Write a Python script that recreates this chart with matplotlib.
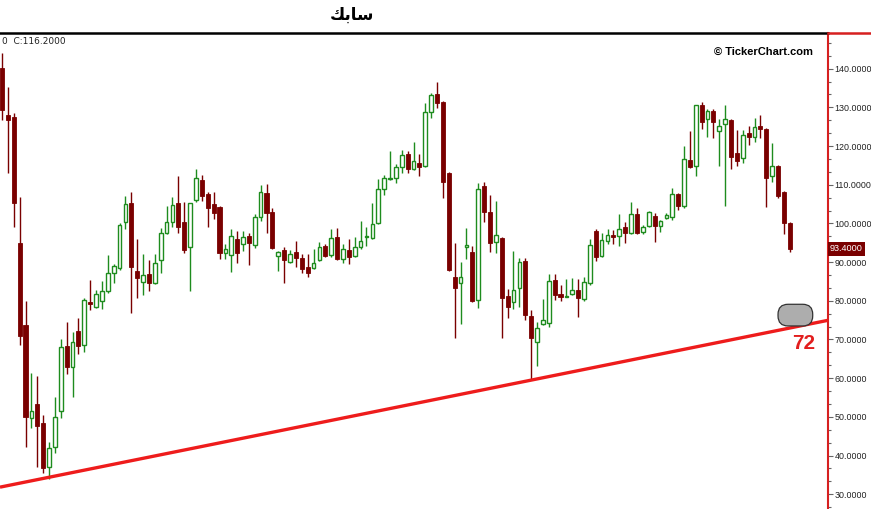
import numpy as np
import matplotlib.pyplot as plt
from matplotlib.patches import FancyBboxPatch
from matplotlib.lines import Line2D
from matplotlib.ticker import MultipleLocator, FormatStrFormatter

# أسعار الشموع (افتتاح، أعلى، أدنى، إغلاق)
opens = [140.1, 128.0, 127.5, 94.9, 73.7, 49.6, 53.3, 48.4, 37.0, 42.2,
         51.5, 68.3, 62.9, 72.2, 68.6, 79.6, 78.4, 79.9, 82.5, 87.2,
         88.4, 100.3, 105.2, 87.7, 84.8, 86.9, 84.6, 90.5, 97.5, 100.3,
         105.2, 100.3, 93.9, 106.0, 111.2, 107.6, 105.0, 104.2, 92.3, 91.8,
         95.9, 94.7, 96.7, 94.4, 101.6, 107.8, 102.9, 91.5, 93.1, 90.0,
         92.6, 91.0, 88.7, 88.4, 90.5, 94.1, 91.8, 96.5, 90.8, 93.1,
         91.5, 93.9, 96.4, 96.2, 100.1, 108.9, 111.5, 111.7, 114.5, 117.9,
         114.0, 115.6, 114.8, 128.8, 133.4, 131.3, 113.0, 86.1, 84.6, 94.0,
         92.6, 80.2, 109.6, 102.9, 95.2, 96.2, 81.2, 79.6, 83.3, 90.3,
         76.0, 69.3, 74.0, 74.2, 85.3, 81.7, 81.0, 81.7, 82.8, 80.4,
         84.6, 98.0, 91.5, 95.4, 97.0, 96.7, 99.0, 97.5, 102.4, 97.7,
         99.3, 101.9, 99.3, 101.4, 101.6, 107.6, 104.5, 116.4, 114.8, 130.5,
         126.9, 129.0, 123.9, 125.7, 126.7, 118.2, 116.9, 123.3, 122.3, 125.1,
         124.4, 112.2, 114.8, 108.1, 100.1]
highs = [144.0, 135.2, 128.5, 106.8, 79.9, 61.3, 60.5, 50.5, 43.5, 55.1,
         70.1, 74.5, 71.9, 75.5, 80.7, 85.3, 82.8, 85.1, 91.8, 89.5,
         100.1, 107.1, 108.1, 95.9, 92.1, 90.5, 92.1, 98.8, 104.5, 106.8,
         112.2, 105.5, 105.4, 114.0, 112.5, 108.1, 108.1, 104.4, 94.7, 98.5,
         98.0, 98.0, 97.5, 102.4, 109.9, 110.2, 104.0, 92.8, 93.9, 93.1,
         95.4, 92.1, 92.1, 93.4, 95.2, 94.7, 98.5, 98.8, 94.7, 95.9,
         96.5, 100.6, 99.0, 105.2, 111.4, 112.5, 118.7, 115.3, 118.9, 118.7,
         121.0, 117.9, 131.1, 133.7, 136.5, 131.5, 113.2, 94.9, 90.0, 98.8,
         94.1, 110.4, 110.7, 107.3, 105.8, 96.4, 83.0, 92.8, 91.0, 91.0,
         77.6, 74.5, 80.4, 86.9, 86.9, 84.1, 85.6, 85.9, 85.6, 86.1,
         95.9, 98.5, 97.5, 98.5, 98.3, 102.4, 100.3, 105.5, 103.9, 99.6,
         103.1, 102.7, 100.8, 102.7, 109.1, 107.8, 120.0, 123.8, 130.7, 131.3,
         129.5, 129.5, 127.0, 130.5, 127.0, 124.1, 124.1, 125.1, 127.2, 128.0,
         124.6, 120.7, 115.0, 108.3, 100.3]
lows = [126.7, 113.0, 99.0, 68.6, 42.2, 47.1, 37.0, 35.5, 33.9, 40.6,
        49.6, 61.1, 55.1, 66.2, 66.7, 77.6, 78.1, 77.9, 82.0, 84.6,
        87.9, 98.5, 76.8, 80.7, 81.5, 82.5, 84.4, 87.2, 97.2, 99.0,
        97.5, 92.3, 82.5, 105.5, 105.8, 99.0, 101.1, 90.8, 90.8, 87.4,
        89.7, 92.8, 89.2, 93.6, 100.6, 97.5, 93.4, 87.7, 84.6, 89.8,
        88.7, 87.2, 86.1, 88.2, 90.3, 91.3, 91.3, 90.6, 89.7, 89.5,
        91.3, 93.4, 94.1, 96.0, 99.9, 107.3, 111.2, 110.4, 113.0, 113.0,
        113.8, 112.2, 114.6, 127.2, 129.8, 106.5, 87.7, 70.4, 74.0, 90.8,
        79.6, 78.1, 100.3, 92.6, 92.3, 70.4, 75.5, 77.9, 78.4, 75.0,
        59.8, 63.1, 73.7, 73.2, 80.2, 79.9, 80.9, 81.5, 75.8, 79.9,
        84.1, 90.3, 91.3, 94.7, 94.7, 94.1, 94.9, 97.3, 97.3, 97.2,
        99.0, 95.2, 97.7, 101.1, 100.9, 103.4, 104.0, 114.3, 112.2, 124.4,
        122.3, 122.0, 114.8, 104.5, 114.0, 114.8, 115.6, 120.2, 121.0, 122.0,
        104.2, 110.7, 106.5, 97.2, 92.6]
closes = [129.3, 126.7, 105.2, 70.9, 49.9, 51.5, 47.6, 36.8, 41.9, 49.9,
          68.0, 62.9, 69.3, 68.3, 80.2, 79.3, 81.7, 82.5, 87.2, 89.0,
          99.6, 105.0, 88.7, 85.9, 86.6, 84.6, 89.7, 97.5, 100.3, 104.7,
          99.0, 93.1, 105.2, 111.7, 107.1, 104.0, 102.7, 92.3, 93.4, 96.7,
          92.3, 96.5, 94.9, 101.6, 108.1, 102.7, 93.6, 92.6, 90.5, 92.1,
          91.0, 88.2, 87.2, 89.7, 93.9, 91.5, 96.2, 90.8, 93.4, 91.3,
          93.9, 95.4, 96.7, 99.8, 108.9, 111.7, 111.8, 114.5, 117.6, 114.0,
          116.1, 114.5, 128.8, 133.2, 131.1, 110.7, 87.9, 83.3, 86.1, 94.4,
          79.9, 108.9, 102.9, 94.9, 97.0, 80.7, 78.4, 82.8, 90.0, 76.3,
          70.4, 72.9, 75.0, 85.1, 81.5, 81.0, 81.3, 82.8, 80.7, 84.8,
          94.4, 91.3, 95.7, 97.0, 96.5, 98.5, 97.5, 102.4, 97.5, 99.0,
          102.9, 99.3, 100.6, 102.1, 107.6, 104.5, 116.6, 114.5, 130.5, 126.1,
          129.0, 126.1, 125.2, 126.9, 117.1, 116.1, 122.8, 122.3, 124.9, 124.4,
          111.7, 114.8, 107.1, 100.1, 93.4]

# خط الاتجاه: نقطتا التماس مع القيعان
trend_idx = [8, 90]
trend_val = [34.4, 59.5]

o = np.array(opens); h = np.array(highs); l = np.array(lows); c = np.array(closes)
x = np.arange(len(o))
up = c >= o

green = '#1e8c1e'
dred = '#7a0000'

fig = plt.figure(figsize=(8.71, 5.09), dpi=100)
ax = fig.add_axes([0, 0, 828 / 871, 476 / 509])

# الفتائل
ax.vlines(x[up], l[up], h[up], color=green, lw=1.0, zorder=2)
ax.vlines(x[~up], l[~up], h[~up], color=dred, lw=1.0, zorder=2)
# الأجسام
body = np.maximum(np.abs(c - o), 0.25)
ax.bar(x[up], body[up], bottom=o[up], width=0.62, facecolor='white',
       edgecolor=green, linewidth=1.0, zorder=3)
ax.bar(x[~up], body[~up], bottom=c[~up], width=0.7, facecolor=dred,
       edgecolor=dred, linewidth=0.6, zorder=3)

xmin, xmax = -0.34, 140.5
slope = (trend_val[1] - trend_val[0]) / (trend_idx[1] - trend_idx[0])
tx = np.array([xmin, xmax])
ty = trend_val[0] + slope * (tx - trend_idx[0])
ax.plot(tx, ty, color='#ee1c1c', lw=2.4, zorder=4, solid_capstyle='butt')

ax.set_xlim(xmin, xmax)
ax.set_ylim(26.2, 149.2)

# الشكل الرمادي و الرقم 72
box = FancyBboxPatch((132.0, 73.5), 5.9, 5.6,
                     boxstyle='round,pad=0,rounding_size=1.7',
                     mutation_aspect=1.52, facecolor='#adadad',
                     edgecolor='#333333', lw=0.9, zorder=5)
ax.add_patch(box)
ax.text(136.3, 69.0, '72', color='#e21e1e', fontsize=15, fontweight='bold',
        ha='center', va='center', family='Liberation Sans', zorder=6)

# المحاور
for s in ['left', 'bottom']:
    ax.spines[s].set_visible(False)
ax.spines['top'].set_color('black')
ax.spines['top'].set_linewidth(1.8)
ax.spines['right'].set_color('#d62020')
ax.spines['right'].set_linewidth(1.5)
ax.set_xticks([])
ax.yaxis.tick_right()
ax.yaxis.set_major_locator(MultipleLocator(10))
ax.yaxis.set_minor_locator(MultipleLocator(10 / 3))
ax.yaxis.set_major_formatter(FormatStrFormatter('%.4f'))
ax.tick_params(axis='y', which='major', length=3.5, width=0.8, color='#666666',
               labelsize=6.4, pad=1, labelcolor='#222222')
ax.tick_params(axis='y', which='minor', length=2.5, width=0.8, color='#666666')
for lab in ax.get_yticklabels():
    lab.set_family('Liberation Sans')

# ملصق آخر سعر
ax.text(1.0 + 2 / 828, c[-1], '93.4000', transform=ax.get_yaxis_transform(),
        ha='left', va='center', color='white', fontsize=6.6, family='Liberation Sans',
        bbox=dict(boxstyle='square,pad=0.25', facecolor='#7a0000', edgecolor='none'),
        zorder=10, clip_on=False)

ax.text(0.982, 0.960, '© TickerChart.com', transform=ax.transAxes, ha='right',
        va='center', fontsize=8, fontweight='bold', family='Liberation Sans')
ax.text(0.002, 0.983, '0  C:116.2000', transform=ax.transAxes, ha='left',
        va='center', fontsize=6.5, family='DejaVu Sans', color='#222222')

# العنوان (أشكال العرض العربية بترتيب بصري لأن matplotlib لا يشكّل النص)
fig.text(352 / 871, 1 - 15 / 509, '\uFEDA\uFE91\uFE8E\uFEB3', ha='center', va='center',
         fontsize=12, fontweight='bold', family='DejaVu Sans')

# امتداد الخط العلوي الأحمر يمين المحور
fig.add_artist(Line2D([828 / 871, 1], [476 / 509, 476 / 509], color='#d62020', lw=1.8))

fig.savefig('out.png', dpi=100)
